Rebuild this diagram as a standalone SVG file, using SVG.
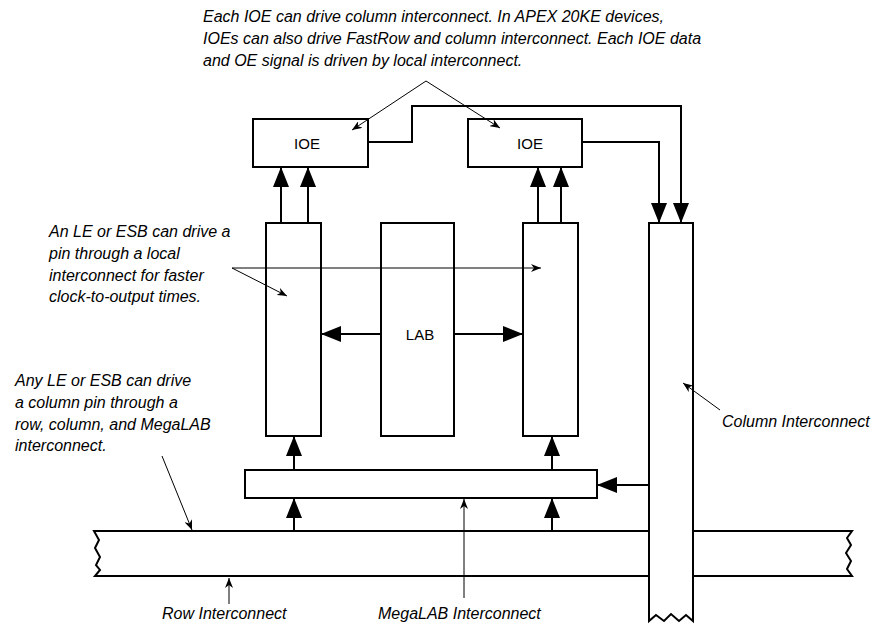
<svg xmlns="http://www.w3.org/2000/svg" width="877" height="628" viewBox="0 0 877 628">
<style>
.box{fill:#fff;stroke:#000;stroke-width:2}
.wire{fill:none;stroke:#000;stroke-width:2}
.ptr{fill:none;stroke:#000;stroke-width:1}
.note{font-family:"Liberation Sans",Arial,sans-serif;font-style:italic;font-size:16px;fill:#000}
.lbl{font-family:"Liberation Sans",Arial,sans-serif;font-size:15px;fill:#000;text-anchor:middle;dominant-baseline:central}
</style>
<defs>
<marker id="big" markerUnits="userSpaceOnUse" markerWidth="20" markerHeight="16" refX="20" refY="8" orient="auto">
<path d="M0,0 L20,8 L0,16 z" fill="#000"/>
</marker>
<marker id="small" markerUnits="userSpaceOnUse" markerWidth="10" markerHeight="8" refX="10" refY="4" orient="auto">
<path d="M0,0 L10,4 L0,8 L3,4 z" fill="#000"/>
</marker>
</defs>
<rect width="877" height="628" fill="#fff"/>

<g id="row-interconnect">
<path class="box" d="M94,531 L852,531 L847,538 L851,545 L846,553 L851,561 L847,569 L852,576 L95,576 L100,570 L96,565 L100,557 L95,548 L99,540 Z"/>
</g>
<g id="column-interconnect">
<path class="box" d="M649,223 L693,223 L693,621 L686,615 L679,621 L671,614 L664,621 L656,615 L649,621 Z"/>
</g>
<g id="megalab">
<rect class="box" x="245" y="470" width="352" height="28"/>
</g>
<g id="le-column-left">
<rect class="box" x="266" y="223" width="55" height="213"/>
</g>
<g id="lab">
<rect class="box" x="381" y="223" width="73" height="213"/>
<text class="lbl" x="420" y="334">LAB</text>
</g>
<g id="le-column-right">
<rect class="box" x="523" y="223" width="55" height="213"/>
</g>
<g id="ioe-left">
<rect class="box" x="253" y="119" width="115" height="48"/>
<text class="lbl" x="307" y="143">IOE</text>
</g>
<g id="ioe-right">
<rect class="box" x="468" y="119" width="114" height="48"/>
<text class="lbl" x="530" y="143">IOE</text>
</g>

<g id="connectors">
<line class="wire" x1="281" y1="223" x2="281" y2="167" marker-end="url(#big)"/>
<line class="wire" x1="308" y1="223" x2="308" y2="167" marker-end="url(#big)"/>
<line class="wire" x1="538" y1="223" x2="538" y2="167" marker-end="url(#big)"/>
<line class="wire" x1="561" y1="223" x2="561" y2="167" marker-end="url(#big)"/>
<polyline class="wire" points="368,142 412,142 412,106 681,106 681,223" marker-end="url(#big)"/>
<polyline class="wire" points="582,142 659,142 659,223" marker-end="url(#big)"/>
<line class="wire" x1="381" y1="334" x2="321" y2="334" marker-end="url(#big)"/>
<line class="wire" x1="454" y1="334" x2="523" y2="334" marker-end="url(#big)"/>
<line class="wire" x1="294" y1="470" x2="294" y2="436" marker-end="url(#big)"/>
<line class="wire" x1="552" y1="470" x2="552" y2="436" marker-end="url(#big)"/>
<line class="wire" x1="294" y1="531" x2="294" y2="498" marker-end="url(#big)"/>
<line class="wire" x1="552" y1="531" x2="552" y2="498" marker-end="url(#big)"/>
<line class="wire" x1="649" y1="485" x2="597" y2="485" marker-end="url(#big)"/>
<line class="ptr" x1="426" y1="81" x2="352" y2="130" marker-end="url(#small)"/>
<line class="ptr" x1="426" y1="81" x2="500" y2="128" marker-end="url(#small)"/>
<line class="ptr" x1="232" y1="268" x2="287" y2="296" marker-end="url(#small)"/>
<line class="ptr" x1="232" y1="268" x2="541" y2="268" marker-end="url(#small)"/>
<line class="ptr" x1="162" y1="456" x2="192" y2="530" marker-end="url(#small)"/>
<line class="ptr" x1="229" y1="604" x2="229" y2="578" marker-end="url(#small)"/>
<line class="ptr" x1="464" y1="598" x2="464" y2="499" marker-end="url(#small)"/>
<line class="ptr" x1="720" y1="410" x2="683" y2="383" marker-end="url(#small)"/>
</g>

<g id="notes">
<text class="note" x="203" y="22">Each IOE can drive column interconnect. In APEX 20KE devices,</text>
<text class="note" x="203" y="44">IOEs can also drive FastRow and column interconnect. Each IOE data</text>
<text class="note" x="203" y="66">and OE signal is driven by local interconnect.</text>
<text class="note" x="49" y="237">An LE or ESB can drive a</text>
<text class="note" x="49" y="259">pin through a local</text>
<text class="note" x="49" y="281">interconnect for faster</text>
<text class="note" x="49" y="302">clock-to-output times.</text>
<text class="note" x="15" y="386">Any LE or ESB can drive</text>
<text class="note" x="15" y="408">a column pin through a</text>
<text class="note" x="15" y="430">row, column, and MegaLAB</text>
<text class="note" x="15" y="451">interconnect.</text>
<text class="note" x="722" y="427">Column Interconnect</text>
<text class="note" x="162" y="619">Row Interconnect</text>
<text class="note" x="378" y="619">MegaLAB Interconnect</text>
</g>
</svg>
